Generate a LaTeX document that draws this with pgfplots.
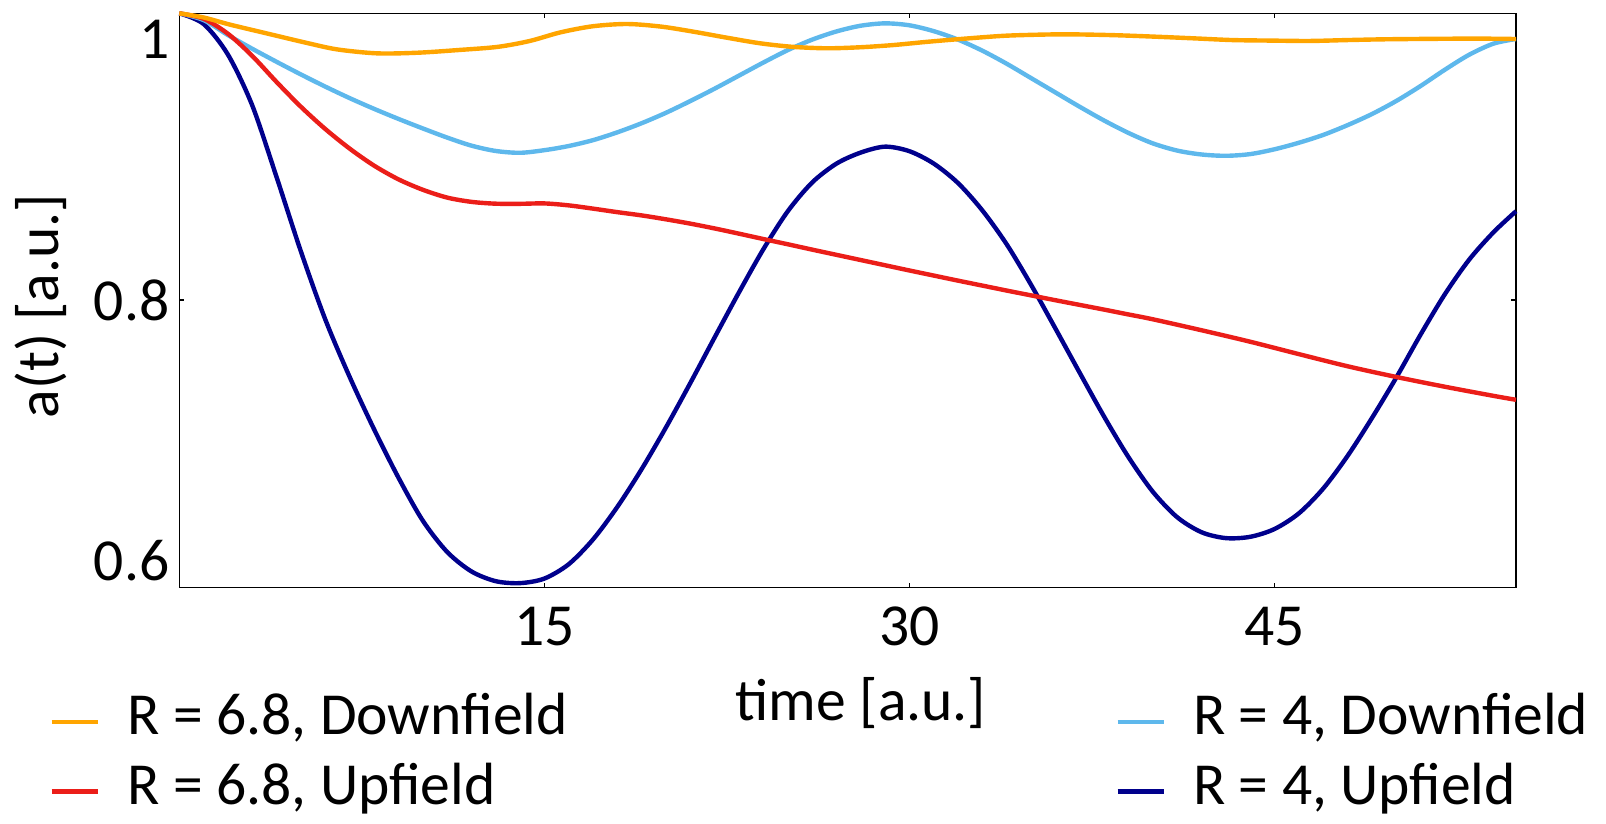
\documentclass[border=0pt]{standalone}
\usepackage{fontspec}
\setmainfont{Carlito}
\usepackage{pgfplots}
\pgfplotsset{compat=1.18}
\definecolor{corange}{RGB}{255,165,0}
\definecolor{cred}{RGB}{235,30,25}
\definecolor{clblue}{RGB}{94,184,236}
\definecolor{cdblue}{RGB}{0,0,140}
\newcommand{\fs}{\fontsize{14.9}{17}\selectfont}
\begin{document}
\begin{tikzpicture}
\path[use as bounding box] (-44.825pt,-59.175pt) rectangle (356.675pt,146.825pt);
\begin{axis}[
  scale only axis, width=334.175pt, height=143.5pt,
  at={(0,0)}, anchor=south west,
  xmin=0, xmax=54.92, ymin=0.5798, ymax=1.0197,
  clip=false,
  xtick={15,30,45},
  ytick={0.8},
  extra y ticks={0.6,1},
  extra y tick labels={0.6,1\hspace{4pt}},
  extra y tick style={major tick length=0pt},
  /pgf/number format/assume math mode=true,
  major tick length=1.2pt,
  tick style={line width=0.35pt, black},
  axis line style={line width=0.35pt},
  tick label style={font=\fs},
  xticklabel style={inner sep=0pt, anchor=base, yshift=-14.5pt},
  yticklabel style={inner sep=0pt, anchor=east, xshift=-2.3pt},
  xlabel={time [a.u.]},
  ylabel={a(t) [a.u.]},
  label style={font=\fs},
  xlabel style={at={(axis description cs:0.51,-0.2314)}, anchor=base, inner sep=0pt},
  ylabel style={at={(axis description cs:-0.0901,0.4899)}, anchor=base, inner sep=0pt},
  legend columns=2,
  legend cell align=left,
  legend image code/.code={\path[draw=none,fill=none] (0pt,-3pt) (18.9pt,3pt); \draw[#1] (0pt,-1.2pt) -- (11.5pt,-1.2pt);},
  legend style={draw=none, fill=none, font=\fs, inner sep=0pt, outer sep=0pt,
    nodes={inner sep=0pt}, row sep=5.6pt,
    at={(axis description cs:-0.0971,-0.1847)}, anchor=north west,
    /tikz/every even column/.append style={column sep=136.9pt}},
]
\addlegendimage{corange, line width=1.1pt}
\addlegendentry{R = 6.8, Downfield}
\addlegendimage{clblue, line width=1.1pt}
\addlegendentry{R = 4, Downfield}
\addlegendimage{cred, line width=1.1pt}
\addlegendentry{R = 6.8, Upfield}
\addlegendimage{cdblue, line width=1.1pt}
\addlegendentry{R = 4, Upfield}

% R = 4, Upfield
\addplot[cdblue, line width=1.1pt, smooth, forget plot] coordinates {
(0,1.0197) (1,1.0115) (2,0.988) (3,0.949) (4,0.894) (5,0.837) (6,0.785) (7,0.741)
(8,0.701) (9,0.664) (10,0.631) (11,0.607) (12,0.592) (13,0.5845) (14,0.583)
(15,0.5865) (16,0.5975) (17,0.6165) (18,0.6415) (19,0.6705) (20,0.7025) (21,0.7365)
(22,0.7715) (23,0.806) (24,0.839) (25,0.868) (26,0.890) (27,0.9045) (28,0.913)
(29,0.9175) (30,0.914) (31,0.9045) (32,0.8895) (33,0.8685) (34,0.8425) (35,0.8115)
(36,0.778) (37,0.744) (38,0.7105) (39,0.6795) (40,0.653) (41,0.6335) (42,0.622)
(43,0.6175) (44,0.6185) (45,0.6245) (46,0.6365) (47,0.6555) (48,0.6805) (49,0.7095)
(50,0.7405) (51,0.7735) (52,0.8045) (53,0.831) (54,0.852) (54.92,0.868)
};
% R = 4, Downfield
\addplot[clblue, line width=1.1pt, smooth, forget plot] coordinates {
(0,1.0197) (1,1.0145) (2,1.003) (3,0.9925) (4,0.9825) (5,0.9728) (6,0.9635)
(7,0.9547) (8,0.9465) (9,0.9388) (10,0.9315) (11,0.9245) (12,0.9183) (13,0.9142)
(14,0.9128) (15,0.9148) (16,0.918) (17,0.9225) (18,0.9285) (19,0.9355) (20,0.9435)
(21,0.9525) (22,0.962) (23,0.972) (24,0.982) (25,0.9915) (26,0.9995) (27,1.0058)
(28,1.0102) (29,1.012) (30,1.0105) (31,1.006) (32,0.9995) (33,0.991) (34,0.981)
(35,0.970) (36,0.959) (37,0.948) (38,0.9375) (39,0.928) (40,0.920) (41,0.9145)
(42,0.9115) (43,0.9105) (44,0.9118) (45,0.9155) (46,0.9205) (47,0.9265) (48,0.934)
(49,0.9425) (50,0.9525) (51,0.964) (52,0.9765) (53,0.988) (54,0.9965) (54.92,1.0)
};
% R = 6.8, Upfield
\addplot[cred, line width=1.1pt, smooth, forget plot] coordinates {
(0,1.0197) (1,1.0155) (2,1.004) (3,0.987) (4,0.967) (5,0.948) (6,0.931) (7,0.916)
(8,0.903) (9,0.8925) (10,0.8845) (11,0.8785) (12,0.8752) (13,0.8738) (14,0.8737)
(15,0.874) (16,0.8725) (17,0.8700) (18,0.8673) (19,0.8648) (20,0.8618) (21,0.8585)
(22,0.8548) (23,0.8508) (24,0.8467) (25,0.8427) (26,0.8386) (27,0.8346) (28,0.8306)
(29,0.8266) (30,0.8226) (31,0.8187) (32,0.8148) (33,0.811) (34,0.8072) (35,0.8035)
(36,0.7998) (37,0.7962) (38,0.7926) (39,0.7889) (40,0.7852) (42,0.7768) (44,0.7680)
(46,0.7585) (48,0.7492) (50,0.7410) (52,0.7335) (54,0.7265) (54.92,0.7235)
};
% R = 6.8, Downfield
\addplot[corange, line width=1.1pt, smooth, forget plot] coordinates {
(0,1.0197) (1.0,1.0165) (2.09,1.011) (3.66,1.004) (5.24,0.997) (6.5,0.992)
(8.14,0.989) (9.8,0.9895) (11.5,0.9916) (13.09,0.994) (14.4,0.9985) (15.66,1.0051)
(17.0,1.0098) (18.4,1.0115) (19.8,1.0095) (21.13,1.0056) (22.5,1.001) (23.87,0.9967)
(25.2,0.994) (26.61,0.9929) (28.0,0.9937) (29.35,0.9954) (30.7,0.9978) (32.09,1.0)
(33.73,1.0023) (34.83,1.0031) (36.4,1.0036) (38.3,1.003) (40.08,1.0018) (41.7,1.0005)
(43.26,0.9992) (44.8,0.9988) (46.42,0.9985) (48.0,0.9992) (49.6,0.9998) (51.98,1.0002)
(53.5,1.0003) (54.92,1.0)
};
\end{axis}
\end{tikzpicture}
\end{document}
